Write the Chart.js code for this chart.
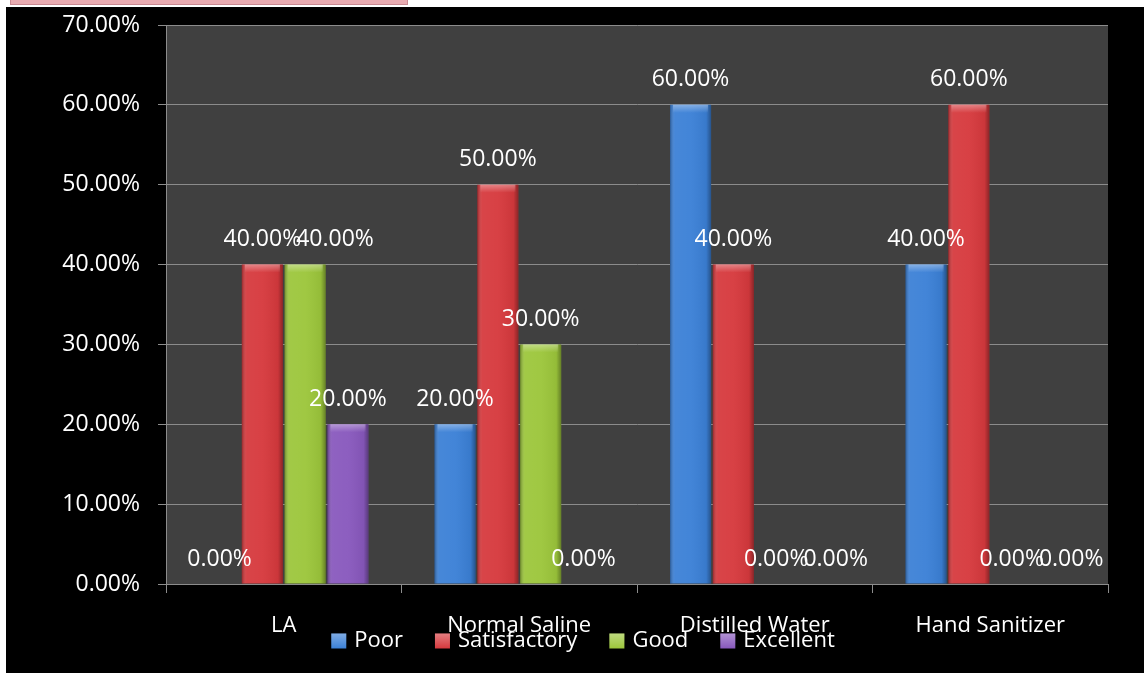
<!DOCTYPE html>
<html>
<head>
<meta charset="utf-8">
<script src="https://cdn.jsdelivr.net/npm/chart.js@4"></script>
<style>
    html, body { margin: 0; padding: 0; background: #ffffff; }
    body { width: 1144px; height: 673px; position: relative; overflow: hidden; font-family: "Open Sans", sans-serif; }
    #tab { position: absolute; left: 10px; top: 0; width: 396px; height: 4px; background: #e8abb1; border: 1px solid #c98a92; border-top: none; }
    #wrap { position: absolute; left: 6px; top: 7px; width: 1138px; height: 666px; background: #000000; }
</style>
</head>
<body>
<div id="tab"></div>
<div id="wrap"><canvas id="surveyChart"></canvas></div>
<script>
const categories = ['LA', 'Normal Saline', 'Distilled Water', 'Hand Sanitizer'];
const seriesNames = ['Poor', 'Satisfactory', 'Good', 'Excellent'];
const poorValues = [0, 20, 60, 40];
const satisfactoryValues = [40, 50, 40, 60];
const goodValues = [40, 30, 0, 0];
const excellentValues = [20, 0, 0, 0];
const yTicks = [0, 10, 20, 30, 40, 50, 60, 70];

const colors = ['#3b80d6', '#d6393d', '#9cc63b', '#8858bd'];
const seriesValues = [poorValues, satisfactoryValues, goodValues, excellentValues];

function pct(v) {
    return v.toFixed(2) + '%';
}

// soft bevel over each bar
const bevelPlugin = {
    id: 'bevel',
    afterDatasetsDraw(chart) {
        const ctx = chart.ctx;
        chart.data.datasets.forEach(function(ds, i) {
            chart.getDatasetMeta(i).data.forEach(function(bar) {
                const left = bar.x - bar.width / 2;
                const h = bar.base - bar.y;
                if (h < 1) return;
                const g = ctx.createLinearGradient(left, 0, left + bar.width, 0);
                g.addColorStop(0, 'rgba(0,0,0,0.30)');
                g.addColorStop(0.12, 'rgba(255,255,255,0.06)');
                g.addColorStop(0.5, 'rgba(255,255,255,0.04)');
                g.addColorStop(0.88, 'rgba(0,0,0,0.05)');
                g.addColorStop(1, 'rgba(0,0,0,0.35)');
                ctx.save();
                ctx.fillStyle = g;
                ctx.fillRect(left, bar.y, bar.width, h);
                const t = ctx.createLinearGradient(0, bar.y, 0, bar.y + 8);
                t.addColorStop(0, 'rgba(255,255,255,0.35)');
                t.addColorStop(1, 'rgba(255,255,255,0)');
                ctx.fillStyle = t;
                ctx.fillRect(left + 3, bar.y, bar.width - 6, Math.min(8, h));
                ctx.restore();
            });
        });
    }
};

// value labels above bars, nudged right when they collide
const valueLabelPlugin = {
    id: 'valueLabels',
    afterDatasetsDraw(chart) {
        const ctx = chart.ctx;
        ctx.save();
        ctx.font = '23px "Open Sans"';
        ctx.fillStyle = '#ffffff';
        ctx.textAlign = 'center';
        ctx.textBaseline = 'middle';
        categories.forEach(function(c, j) {
            const placed = [];
            chart.data.datasets.forEach(function(ds, i) {
                const bar = chart.getDatasetMeta(i).data[j];
                const text = pct(ds.data[j]);
                const w = ctx.measureText(text).width;
                let x = bar.x;
                const y = bar.y - 25;
                placed.forEach(function(p) {
                    if (Math.abs(p.y - y) < 20 && x - w / 2 < p.right) {
                        x = p.right - 5 + w / 2;
                    }
                });
                ctx.fillText(text, x, y);
                placed.push({ y: y, right: x + w / 2 });
            });
        });
        ctx.restore();
    }
};

// legend drawn on top of the category labels, like the original
const overlayLegend = {
    id: 'overlayLegend',
    afterDraw(chart) {
        const ctx = chart.ctx;
        const box = 15, gap = 8, spacing = 32, y = 634;
        ctx.save();
        ctx.font = '22px "Open Sans"';
        const widths = chart.data.datasets.map(function(ds) { return ctx.measureText(ds.label).width; });
        let total = 0;
        widths.forEach(function(w, i) { total += box + gap + w + (i > 0 ? spacing : 0); });
        let x = chart.width / 2 + 8 - total / 2;
        ctx.textBaseline = 'middle';
        ctx.textAlign = 'left';
        chart.data.datasets.forEach(function(ds, i) {
            const g = ctx.createLinearGradient(0, y - box / 2, 0, y + box / 2);
            g.addColorStop(0, 'rgba(255,255,255,0.35)');
            g.addColorStop(1, 'rgba(255,255,255,0)');
            ctx.fillStyle = colors[i];
            ctx.fillRect(x, y - box / 2, box, box);
            ctx.fillStyle = g;
            ctx.fillRect(x, y - box / 2, box, box);
            ctx.fillStyle = '#ffffff';
            ctx.fillText(ds.label, x + box + gap, y);
            x += box + gap + widths[i] + spacing;
        });
        ctx.restore();
    }
};

const ctx = document.getElementById('surveyChart').getContext('2d');
const surveyChart = new Chart(ctx, {
    type: 'bar',
    data: {
        labels: categories,
        datasets: seriesNames.map(function(name, i) {
            return {
                label: name,
                data: seriesValues[i],
                backgroundColor: colors[i],
                borderWidth: 0,
                categoryPercentage: 0.727,
                barPercentage: 0.96
            };
        })
    },
    options: {
        responsive: true,
        maintainAspectRatio: false,
        animation: false,
        layout: {
            padding: { top: 18, right: 36, left: 0, bottom: 0 }
        },
        plugins: {
            tooltip: { enabled: false },
            legend: { display: false }
        },
        scales: {
            x: {
                grid: {
                    offset: true,
                    drawOnChartArea: false,
                    tickLength: 9,
                    color: '#8c8c8c'
                },
                border: { color: '#8c8c8c', width: 1 },
                ticks: {
                    color: '#ffffff',
                    font: { family: 'Open Sans', size: 22 },
                    padding: 20,
                    maxRotation: 0
                },
                afterFit: function(scale) {
                    scale.height = 89;
                }
            },
            y: {
                min: 0,
                max: 70,
                afterBuildTicks: function(scale) {
                    scale.ticks = yTicks.map(function(v) { return { value: v }; });
                },
                grid: { color: '#8c8c8c', tickLength: 8 },
                border: { color: '#8c8c8c', width: 1 },
                ticks: {
                    color: '#ffffff',
                    font: { family: 'Open Sans', size: 23 },
                    padding: 18,
                    callback: function(v) { return pct(v); }
                },
                afterFit: function(scale) {
                    scale.width = 160;
                    scale.paddingTop = 0;
                    scale.paddingBottom = 0;
                }
            }
        }
    },
    plugins: [
        {
            id: 'plotBg',
            beforeDraw(chart) {
                const a = chart.chartArea;
                chart.ctx.save();
                chart.ctx.fillStyle = '#404040';
                chart.ctx.fillRect(a.left, a.top, a.right - a.left, a.bottom - a.top);
                chart.ctx.restore();
            }
        },
        bevelPlugin,
        valueLabelPlugin,
        overlayLegend
    ]
});
</script>
</body>
</html>
